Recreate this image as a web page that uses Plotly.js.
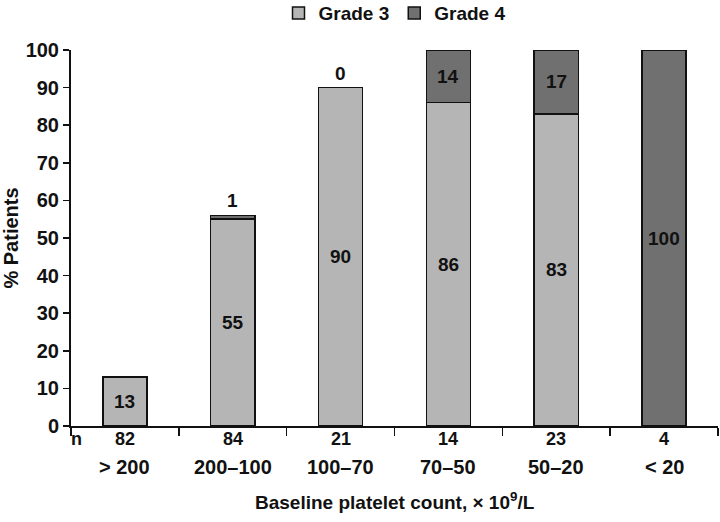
<!DOCTYPE html>
<html>
<head>
<meta charset="utf-8">
<script src="https://cdn.plot.ly/plotly-3.0.1.min.js"></script>
<style>html,body{margin:0;padding:0;background:#fff;}#chart{width:720px;height:522px;}</style>
</head>
<body>
<div id="chart"></div>
<script>
const categories = ['> 200', '200\u2013100', '100\u201370', '70\u201350', '50\u201320', '< 20'];
const nValues = [82, 84, 21, 14, 23, 4];
const grade3 = [13, 55, 90, 86, 83, 0];
const grade4 = [0, 1, 0, 14, 17, 100];
const grade3Labels = ['13', '55', '90', '86', '83', ''];
const grade4Labels = ['', '1', '0', '14', '17', '100'];

const FONT = 'Liberation Sans, Arial, Helvetica, sans-serif';
const fs = 19;

const traces = [
  {type: 'bar', name: 'Grade 3', x: categories, y: grade3, width: 0.41,
   marker: {color: '#b5b5b5', line: {color: '#111', width: 1.5}}, hoverinfo: 'skip'},
  {type: 'bar', name: 'Grade 4', x: categories, y: grade4, width: 0.41,
   marker: {color: '#707070', line: {color: '#111', width: 1.5}}, hoverinfo: 'skip'}
];

const ann = [];
categories.forEach((c, i) => {
  if (grade3Labels[i]) ann.push({x: c, y: grade3[i] / 2, xref: 'x', yref: 'y', text: grade3Labels[i], showarrow: false,
    font: {family: FONT, size: fs, color: '#111', weight: 'bold'}});
  if (grade4Labels[i]) {
    if (grade4[i] >= 5) ann.push({x: c, y: grade3[i] + grade4[i] / 2, xref: 'x', yref: 'y', text: grade4Labels[i], showarrow: false,
      font: {family: FONT, size: fs, color: '#111', weight: 'bold'}});
    else ann.push({x: c, y: grade3[i] + grade4[i], xref: 'x', yref: 'y', yanchor: 'bottom', yshift: 2, text: grade4Labels[i], showarrow: false,
      font: {family: FONT, size: fs, color: '#111', weight: 'bold'}});
  }
  ann.push({x: c, y: 0, xref: 'x', yref: 'y', yshift: -13, text: String(nValues[i]), showarrow: false,
    font: {family: FONT, size: fs - 1, color: '#111', weight: 'bold'}});
  ann.push({x: c, y: 0, xref: 'x', yref: 'y', yshift: -41, text: categories[i], showarrow: false,
    font: {family: FONT, size: fs + 1, color: '#111', weight: 'bold'}});
});
ann.push({x: 0, y: 0, xref: 'paper', yref: 'y', xshift: -2, yshift: -13, text: 'n', showarrow: false,
  font: {family: FONT, size: fs - 1, color: '#111', weight: 'bold'}});
ann.push({x: 0.5, y: 0, xref: 'paper', yref: 'y', yshift: -75, text: 'Baseline platelet count, \u00d7 10<sup>9</sup>/L', showarrow: false,
  font: {family: FONT, size: fs, color: '#111', weight: 'bold'}});

const layout = {
  width: 720, height: 522,
  margin: {l: 71, r: 2, t: 50, b: 96},
  paper_bgcolor: '#fff', plot_bgcolor: '#fff',
  barmode: 'stack',
  showlegend: true,
  legend: {orientation: 'h', x: 0.5, xanchor: 'center', y: 0.975, yanchor: 'middle', yref: 'container',
    font: {family: FONT, size: fs, color: '#111', weight: 'bold'}, itemwidth: 30, traceorder: 'normal'},
  font: {family: FONT, color: '#111'},
  xaxis: {type: 'category', range: [-0.5, 5.5], tickson: 'boundaries', ticks: 'outside', ticklen: 8, tickwidth: 1.5,
    tickcolor: '#111', showticklabels: false, showline: true, linecolor: '#111', linewidth: 2, showgrid: false, zeroline: false, fixedrange: true},
  yaxis: {range: [0, 100], dtick: 10, ticks: 'outside', ticklen: 6, tickwidth: 1.5, tickcolor: '#111',
    showline: true, linecolor: '#111', linewidth: 2, showgrid: false, zeroline: false,
    tickfont: {family: FONT, size: fs + 1, color: '#111', weight: 'bold'},
    title: {text: '% Patients', standoff: 10, font: {family: FONT, size: fs + 1, color: '#111', weight: 'bold'}}},
  annotations: ann
};
Plotly.newPlot('chart', traces, layout, {displayModeBar: false, staticPlot: true});
</script>
</body>
</html>
